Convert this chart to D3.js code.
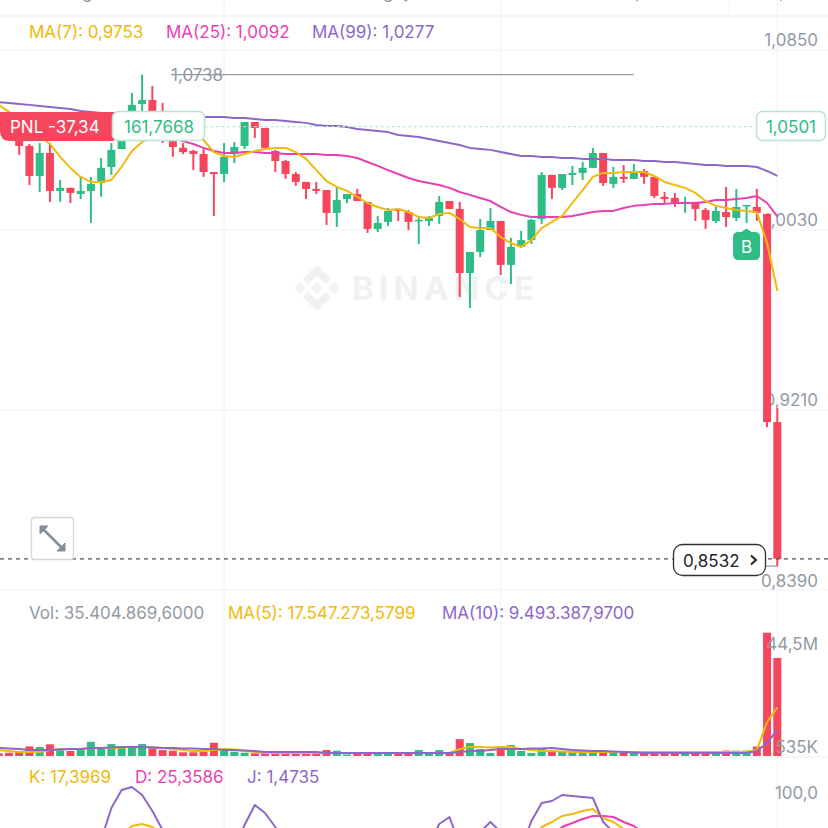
<!DOCTYPE html>
<html><head><meta charset="utf-8">
<script src="https://cdn.jsdelivr.net/npm/d3@7"></script>
<style>html,body{margin:0;padding:0;background:#fff;overflow:hidden}svg{display:block}text{font-family:Inter,"Noto Sans",sans-serif}</style>
</head><body><svg id="c" width="828" height="828"></svg>
<script>
const opens=[1.0549,1.0522,1.0495,1.0413,1.0276,1.0381,1.0208,1.0222,1.0194,1.0208,
1.0244,1.0317,1.0399,1.0495,1.0604,1.0622,1.0522,1.0476,1.0404,1.0390,
1.0376,1.0294,1.0285,1.0376,1.0413,1.0522,1.0495,1.0390,1.0344,1.0285,
1.0249,1.0217,1.0212,1.0108,1.0171,1.0194,1.0158,1.0035,1.0067,1.0126,
1.0112,1.0071,1.0071,1.0094,1.0162,1.0126,.9834,.9930,1.0030,1.0071,
.9871,.9953,.9984,1.0080,1.0281,1.0222,1.0281,1.0290,1.0313,1.0381,
1.0240,1.0272,1.0263,1.0299,1.0272,1.0181,1.0176,1.0153,1.0158,1.0121,
1.0071,1.0112,1.0085,1.0140,1.0135,1.0103,.9155];
const highs=[1.0568,1.0540,1.0513,1.0422,1.0426,1.0426,1.0258,1.0222,1.0276,1.0272,
1.0358,1.0426,1.0486,1.0654,1.0738,1.0686,1.0609,1.0495,1.0426,1.0395,
1.0404,1.0294,1.0426,1.0431,1.0522,1.0522,1.0495,1.0395,1.0349,1.0294,
1.0249,1.0249,1.0212,1.0226,1.0194,1.0217,1.0158,1.0094,1.0130,1.0126,
1.0121,1.0085,1.0094,1.0185,1.0162,1.0158,.9930,1.0080,1.0130,1.0071,
.9994,1.0026,1.0080,1.0294,1.0281,1.0285,1.0322,1.0340,1.0404,1.0381,
1.0317,1.0326,1.0331,1.0308,1.0272,1.0203,1.0199,1.0181,1.0158,1.0130,
1.0135,1.0226,1.0217,1.0144,1.0217,1.0103,.9219];
const lows=[1.0486,1.0449,1.0372,1.0235,1.0203,1.0158,1.0158,1.0153,1.0171,1.0062,
1.0181,1.0281,1.0399,1.0495,1.0572,1.0508,1.0426,1.0363,1.0376,1.0303,
1.0272,1.0094,1.0249,1.0335,1.0399,1.0449,1.0395,1.0294,1.0263,1.0231,
1.0171,1.0194,1.0053,1.0044,1.0153,1.0162,1.0017,1.0021,1.0048,1.0071,
1.0030,.9966,1.0048,1.0058,1.0126,.9725,.9675,.9907,1.0030,.9825,
.9784,.9948,.9966,1.0058,1.0171,1.0212,1.0235,1.0258,1.0313,1.0231,
1.0222,1.0244,1.0263,1.0240,1.0176,1.0149,1.0135,1.0108,1.0071,1.0035,
1.0062,1.0044,1.0071,1.0062,1.0071,.9132,.8499];
const closes=[1.0495,1.0463,1.0413,1.0276,1.0381,1.0208,1.0222,1.0199,1.0208,1.0240,
1.0313,1.0395,1.0463,1.0600,1.0622,1.0540,1.0463,1.0408,1.0385,1.0376,
1.0294,1.0285,1.0363,1.0408,1.0522,1.0495,1.0404,1.0344,1.0285,1.0249,
1.0217,1.0208,1.0108,1.0167,1.0194,1.0162,1.0035,1.0062,1.0117,1.0117,
1.0067,1.0076,1.0085,1.0158,1.0126,.9834,.9930,1.0030,1.0071,.9871,
.9953,.9984,1.0076,1.0281,1.0222,1.0285,1.0290,1.0313,1.0381,1.0244,
1.0272,1.0263,1.0299,1.0272,1.0185,1.0171,1.0153,1.0158,1.0126,1.0076,
1.0117,1.0089,1.0135,1.0144,1.0108,.9155,.8532];
const ma7=[1.0600,1.0568,1.0531,1.0495,1.0458,1.0422,1.0363,1.0313,1.0272,1.0249,
1.0249,1.0258,1.0317,1.0390,1.0431,1.0454,1.0486,1.0508,1.0513,1.0486,
1.0440,1.0385,1.0367,1.0363,1.0376,1.0390,1.0399,1.0404,1.0404,1.0385,
1.0354,1.0303,1.0253,1.0226,1.0208,1.0181,1.0153,1.0135,1.0121,1.0126,
1.0112,1.0089,1.0085,1.0103,1.0108,1.0080,1.0044,1.0039,1.0039,.9998,
.9971,.9953,.9984,1.0039,1.0067,1.0094,1.0153,1.0212,1.0272,1.0290,
1.0290,1.0294,1.0294,1.0294,1.0276,1.0249,1.0235,1.0222,1.0199,1.0162,
1.0140,1.0130,1.0121,1.0117,1.0112,.9971,.9753];
const ma25=[1.0559,1.0554,1.0549,1.0545,1.0540,1.0536,1.0531,1.0527,1.0522,1.0518,
1.0513,1.0508,1.0504,1.0499,1.0490,1.0476,1.0463,1.0449,1.0435,1.0422,
1.0404,1.0390,1.0381,1.0381,1.0385,1.0385,1.0381,1.0381,1.0376,1.0376,
1.0376,1.0376,1.0372,1.0372,1.0367,1.0358,1.0340,1.0322,1.0303,1.0285,
1.0267,1.0253,1.0244,1.0235,1.0222,1.0203,1.0190,1.0176,1.0162,1.0135,
1.0112,1.0099,1.0089,1.0089,1.0089,1.0089,1.0094,1.0103,1.0112,1.0117,
1.0117,1.0130,1.0140,1.0144,1.0149,1.0149,1.0153,1.0153,1.0153,1.0158,
1.0167,1.0167,1.0171,1.0176,1.0185,1.0153,1.0092];
const ma99=[1.0613,1.0609,1.0604,1.0600,1.0595,1.0590,1.0586,1.0581,1.0572,1.0568,
1.0563,1.0563,1.0559,1.0559,1.0554,1.0554,1.0549,1.0549,1.0549,1.0545,
1.0545,1.0545,1.0545,1.0540,1.0540,1.0536,1.0531,1.0531,1.0527,1.0522,
1.0518,1.0508,1.0504,1.0504,1.0499,1.0490,1.0486,1.0481,1.0476,1.0463,
1.0458,1.0454,1.0445,1.0435,1.0426,1.0417,1.0404,1.0399,1.0395,1.0385,
1.0376,1.0367,1.0367,1.0363,1.0363,1.0358,1.0358,1.0354,1.0354,1.0354,
1.0349,1.0349,1.0349,1.0344,1.0344,1.0340,1.0340,1.0335,1.0331,1.0326,
1.0326,1.0322,1.0322,1.0322,1.0317,1.0299,1.0277];
const volumes=[.97,1.18,1.54,3.48,3.23,4.20,2.05,1.80,2.15,5.13,
2.76,4.31,3.12,3.12,4.31,2.76,2.15,1.90,1.33,1.33,
1.54,4.77,1.90,1.54,1.18,.97,1.54,1.44,1.44,1.44,
1.26,1.26,2.15,1.90,.54,1.08,1.26,1.44,.90,1.08,
1.08,2.15,.72,2.15,1.29,6.10,4.67,2.51,1.08,2.87,
3.95,1.80,1.08,2.51,1.80,1.44,1.44,1.44,1.62,1.44,
1.08,1.08,1.08,1.26,1.26,1.26,.72,1.08,1.08,1.08,
1.08,1.97,1.97,1.97,3.41,44.5,35.4];
const volMa5=[2.15,1.80,1.44,1.44,1.44,2.15,2.51,2.51,2.51,2.87,
2.87,2.87,3.05,3.23,3.23,3.23,2.87,2.51,2.15,1.80,
1.80,2.15,2.51,2.33,1.80,1.44,1.08,1.08,1.08,1.08,
1.08,1.08,1.08,1.08,1.08,1.08,1.08,1.08,1.08,1.08,
1.08,1.08,1.08,1.08,1.08,2.51,3.23,3.23,3.05,3.23,
3.23,2.51,2.15,1.80,1.80,1.62,1.44,1.44,1.44,1.44,
1.44,1.44,1.44,1.44,1.44,1.44,1.44,1.44,1.44,1.44,
1.44,1.44,1.44,1.44,2.15,12.2,17.55];
const volMa10=[2.87,2.69,2.51,2.15,2.15,2.15,2.33,2.51,2.51,2.87,
2.87,3.05,3.23,3.23,3.23,3.05,2.87,2.87,2.69,2.69,
2.51,2.51,2.15,2.15,1.97,1.80,1.44,1.44,1.44,1.44,
1.44,1.44,1.08,1.08,1.08,1.08,1.08,1.08,1.08,1.08,
1.08,1.08,1.08,1.08,1.08,1.44,1.80,1.80,2.15,2.51,
2.51,2.51,2.69,2.69,2.87,2.51,2.15,1.97,1.80,1.80,
1.62,1.44,1.26,1.08,1.08,1.08,1.08,1.08,1.08,1.08,
1.08,1.08,1.08,1.08,1.80,4.67,9.49];
const kdjK=[40,40,40,40,40,40,40,40,40,40,
45,55,68,77,79,76,68,55,45,40,
40,40,40,40,45,48,45,40,40,40,
40,40,40,40,40,40,40,40,40,40,
40,40,45,48,48,45,45,48,50,45,
45,50,63,76,81,87,89,92,94,85,
81,74,63,55,50,45,40,35,32,30,
28,26,25,24,23,20,17.3969];
const kdjD=[35,35,35,35,35,35,35,35,35,35,
38,42,48,52,55,55,52,48,44,40,
38,38,38,38,40,42,42,40,38,38,
38,38,38,38,38,38,38,38,38,38,
38,38,40,42,44,44,44,44,44,44,
44,46,50,58,68,76,80,84,87,87,
86,81,77,70,62,55,48,42,38,35,
33,31,30,29,28,27,25.3586];
const kdjJ=[40,40,40,40,40,40,40,40,40,40,
63,95,113,116,108,92,73,53,40,40,
40,40,40,53,78,98,90,76,58,40,
40,40,40,40,40,40,40,40,40,40,
40,40,58,79,86,58,58,71,81,71,
43,55,82,100,102,108,107,106,105,81,
71,55,50,45,40,40,35,30,30,28,
25,25,25,20,15,10,1.4735];
const priceTicks=[1.085,1.003,.921,.839];
const priceLabels=["1,0850","1,0030","0,9210","0,8390"];
const volTicks=[44.5,.535];
const volLabels=["44,5M","535K"];
const gridIndexes=[22,49,76];
const maLegend=["MA(7): 0,9753","MA(25): 1,0092","MA(99): 1,0277"];
const volLegend=["Vol: 35.404.869,6000","MA(5): 17.547.273,5799","MA(10): 9.493.387,9700"];
const kdjLegend=["K: 17,3969","D: 25,3586","J: 1,4735"];
const topFragments=[["g",82],["g",383],["y",403],["p",635],[",",779]];
const pnlText="PNL -37,34", pnlValue="161,7668";
const entryPrice=1.0501, lastPrice=.8532, highPrice=1.0738, lowPrice=.8499;

const RED="#f6465d",GREEN="#2ebd85",GRAY="#929aa5",GRID="#f2f3f5",YEL="#f0b90b",PINK="#ea3fb3",PUR="#8b68c8",PALE="#b8e6d3";
const svg=d3.select("#c");
const x=d3.scaleLinear().domain([0,76]).range([-1.3,777.3]);
const y=d3.scaleLinear().domain([1.085,.839]).range([50,590]);
const yV=d3.scaleLinear().domain([0,44.5]).range([756,632.7]);
const yK=d3.scaleLinear().domain([100,0]).range([803,903]);
const FS=17;

// grid
[16,757].forEach(v=>svg.append("line").attr("x1",0).attr("x2",828).attr("y1",v).attr("y2",v).attr("stroke",GRID).attr("stroke-width",1.5));
svg.selectAll(".hg").data(priceTicks).join("line").attr("x1",0).attr("x2",828).attr("y1",d=>y(d)).attr("y2",d=>y(d)).attr("stroke",GRID).attr("stroke-width",1.2);
svg.selectAll(".vg").data(gridIndexes).join("line").attr("x1",d=>x(d)).attr("x2",d=>x(d)).attr("y1",0).attr("y2",828).attr("stroke",GRID).attr("stroke-width",1.2);
svg.append("line").attr("x1",729).attr("x2",729).attr("y1",0).attr("y2",15).attr("stroke",GRID).attr("stroke-width",1);

// clipped header text
svg.selectAll(".tf").data(topFragments).join("text").attr("x",d=>d[1]).attr("y",-2).attr("font-size",FS).attr("fill",GRAY).text(d=>d[0]);

// watermark
const wm=svg.append("g").attr("transform","translate(317,288)").attr("fill","#f0f1f3");
["M0,-23.5L14.5,-9L9,-3.5L0,-12.5L-9,-3.5L-14.5,-9Z","M0,23.5L14.5,9L9,3.5L0,12.5L-9,3.5L-14.5,9Z",
 "M0,-6L6,0L0,6L-6,0Z","M-17,-6L-11,0L-17,6L-23,0Z","M17,-6L23,0L17,6L11,0Z"].forEach(p=>wm.append("path").attr("d",p));
svg.append("text").attr("x",352).attr("y",300).attr("font-size",33).attr("font-weight",700).attr("fill","#f0f1f3").attr("textLength",182).text("BINANCE");

// price axis labels (below candles)
svg.selectAll(".pl").data(priceTicks).join("text").attr("x",818).attr("y",(d,i)=>y(d)+(i==3?-3:-4)).attr("text-anchor","end").attr("font-size",FS).attr("fill",GRAY).text((d,i)=>priceLabels[i]);

// legends
function legend(items,xs,yy,cols){svg.append("g").selectAll("text").data(items).join("text").attr("x",(d,i)=>xs[i]).attr("y",yy).attr("font-size",FS).attr("fill",(d,i)=>cols[i]).text(d=>d);}
legend(maLegend,[29,166,312],38,[YEL,PINK,PUR]);
legend(volLegend,[29,228,442],619,[GRAY,YEL,PUR]);
legend(kdjLegend,[29,135,247],783,[YEL,PINK,PUR]);

// candles
const idx=d3.range(opens.length);
const col=i=>closes[i]>=opens[i]?GREEN:RED;
svg.append("g").selectAll("line").data(idx).join("line").attr("x1",i=>x(i)).attr("x2",i=>x(i)).attr("y1",i=>y(highs[i])).attr("y2",i=>y(lows[i])).attr("stroke",col).attr("stroke-width",2);
svg.append("g").selectAll("rect").data(idx).join("rect").attr("x",i=>x(i)-4).attr("width",8).attr("y",i=>Math.min(y(opens[i]),y(closes[i]))).attr("height",i=>Math.max(1.5,Math.abs(y(opens[i])-y(closes[i])))).attr("fill",col);

// MA lines
function ln(arr,sc,c,w){svg.append("path").attr("d",d3.line().x((d,i)=>x(i)).y(d=>sc(d))(arr)).attr("fill","none").attr("stroke",c).attr("stroke-width",w).attr("stroke-linejoin","round");}
ln(ma99,y,PUR,2);ln(ma25,y,PINK,2);ln(ma7,y,YEL,2);

// entry dotted line
svg.append("line").attr("x1",205).attr("x2",755).attr("y1",y(entryPrice)).attr("y2",y(entryPrice)).attr("stroke",PALE).attr("stroke-width",1.3).attr("stroke-dasharray","2.5 3");
// PNL label
svg.append("path").attr("d","M0,112H114V141H10Q0,141 0,131Z").attr("fill",RED);
svg.append("text").attr("x",10).attr("y",132.5).attr("font-size",FS).attr("fill","#fff").text(pnlText);
svg.append("rect").attr("x",112.5).attr("y",111.5).attr("width",92).attr("height",29).attr("rx",6).attr("fill","#fff").attr("stroke",PALE).attr("stroke-width",1.6);
svg.append("text").attr("x",159).attr("y",132.5).attr("text-anchor","middle").attr("font-size",FS).attr("fill",GREEN).text(pnlValue);
svg.append("rect").attr("x",756.5).attr("y",111.5).attr("width",69).attr("height",29).attr("rx",6).attr("fill","#fff").attr("stroke",PALE).attr("stroke-width",1.6);
svg.append("text").attr("x",791).attr("y",132.5).attr("text-anchor","middle").attr("font-size",FS).attr("fill",GREEN).text("1,0501");

// high annotation
svg.append("line").attr("x1",x(62)).attr("x2",171).attr("y1",y(highPrice)).attr("y2",y(highPrice)).attr("stroke",GRAY).attr("stroke-width",1.2);
svg.append("text").attr("x",171).attr("y",80.5).attr("font-size",FS).attr("fill",GRAY).text("1,0738");

// low annotation + last price
svg.append("line").attr("x1",0).attr("x2",828).attr("y1",y(lastPrice)).attr("y2",y(lastPrice)).attr("stroke","#474d57").attr("stroke-width",1.2).attr("stroke-dasharray","4 4");
svg.append("line").attr("x1",764).attr("x2",x(76)).attr("y1",y(lowPrice)).attr("y2",y(lowPrice)).attr("stroke",GRAY).attr("stroke-width",1.2);
svg.append("rect").attr("x",673.5).attr("y",544.5).attr("width",92).attr("height",31).attr("rx",9).attr("fill","#fff").attr("stroke","#2b3139").attr("stroke-width",1.3);
svg.append("text").attr("x",683).attr("y",567).attr("font-size",FS).attr("fill","#1e2329").text("0,8532");
svg.append("path").attr("d","M751,555.5L756,560L751,564.5").attr("fill","none").attr("stroke","#1e2329").attr("stroke-width",2);

// B marker
const bx=x(73);
svg.append("path").attr("d",`M${bx-5},232L${bx},228.5L${bx+5},232H${bx+8}Q${bx+13.5},232 ${bx+13.5},237V254Q${bx+13.5},260 ${bx+8},260H${bx-8}Q${bx-13.5},260 ${bx-13.5},254V237Q${bx-13.5},232 ${bx-8},232Z`).attr("fill",GREEN);
svg.append("text").attr("x",bx).attr("y",253).attr("text-anchor","middle").attr("font-size",17).attr("fill","#fff").text("B");

// expand icon
svg.append("rect").attr("x",31.5).attr("y",517.5).attr("width",42).attr("height",42).attr("rx",3).attr("fill","#fff").attr("stroke","#d5d8dc").attr("stroke-width",1.3);
svg.append("g").attr("fill","#848e9c").attr("stroke","#848e9c").selectAll("path").data(["M40,526H48L40,534Z","M65,551H57L65,543Z"]).join("path").attr("d",d=>d).attr("stroke-width",1);
svg.append("line").attr("x1",43).attr("y1",529).attr("x2",62).attr("y2",548).attr("stroke","#848e9c").attr("stroke-width",2.5);

// volume
svg.append("g").selectAll("rect").data(idx).join("rect").attr("x",i=>x(i)-4).attr("width",8).attr("y",i=>yV(volumes[i])).attr("height",i=>yV(0)-yV(volumes[i])).attr("fill",col);
ln(volMa5,yV,YEL,2);ln(volMa10,yV,PUR,2);
svg.selectAll(".vl").data(volTicks).join("text").attr("x",818).attr("y",(d,i)=>i==0?650:753).attr("text-anchor","end").attr("font-size",FS).attr("fill",GRAY).text((d,i)=>volLabels[i]);

// KDJ
ln(kdjD,yK,PINK,2);ln(kdjK,yK,YEL,2);ln(kdjJ,yK,PUR,2);
svg.append("text").attr("x",818).attr("y",799).attr("text-anchor","end").attr("font-size",FS).attr("fill",GRAY).text("100,0");
</script></body></html>
